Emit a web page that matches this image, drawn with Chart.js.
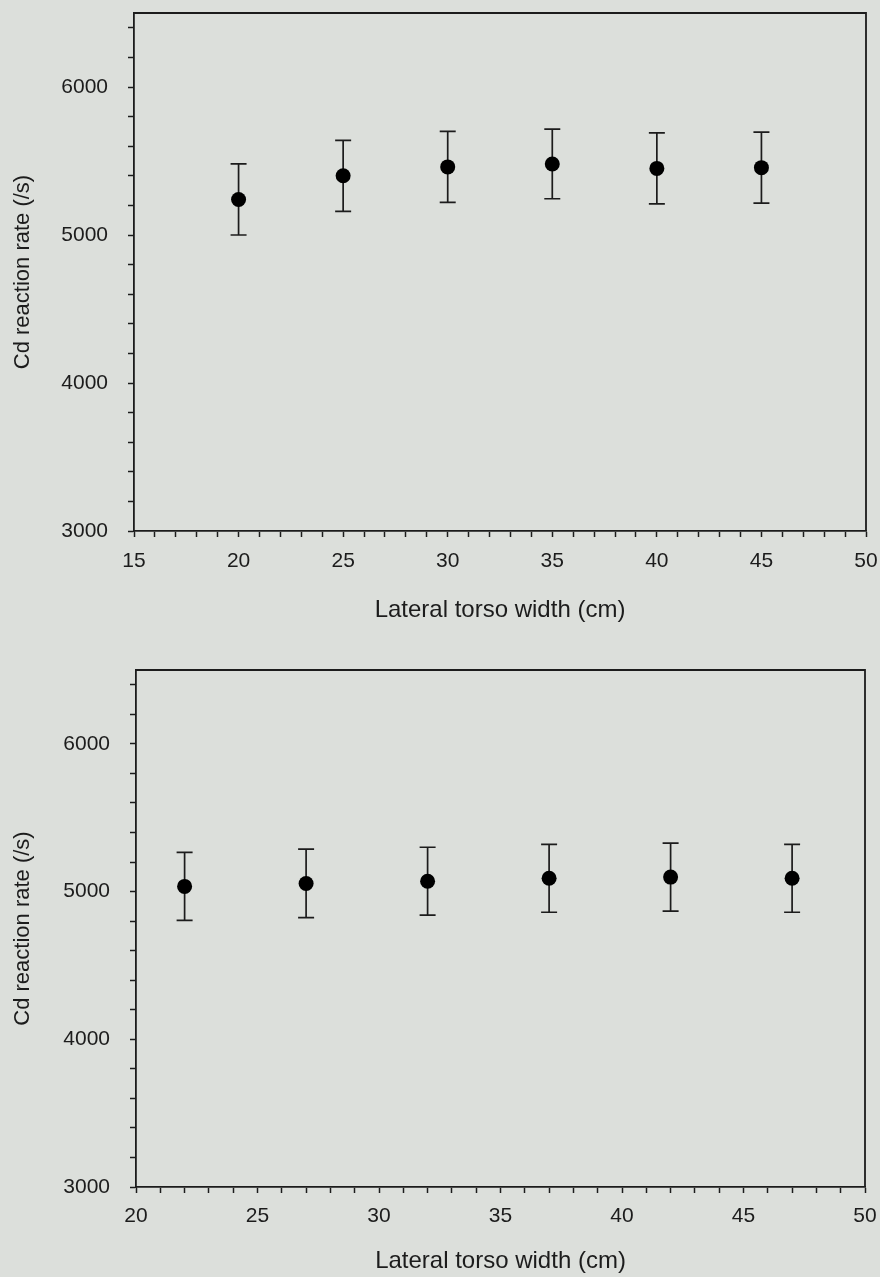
<!DOCTYPE html>
<html>
<head>
<meta charset="utf-8">
<script src="https://cdn.jsdelivr.net/npm/chart.js@4/dist/chart.umd.min.js"></script>
<style>
  html, body { margin: 0; padding: 0; background: #dcdfdb; }
  .box { position: relative; width: 880px; }
  canvas { display: block; }
</style>
</head>
<body>
<div class="box" style="height:640px"><canvas id="top" width="880" height="640"></canvas></div>
<div class="box" style="height:637px"><canvas id="bottom" width="880" height="637"></canvas></div>
<script>
// data
const widthsTop = [20, 25, 30, 35, 40, 45];
const ratesTop = [5240, 5400, 5460, 5480, 5450, 5455];
const errTop = [240, 240, 240, 235, 240, 240];

const widthsBottom = [22, 27, 32, 37, 42, 47];
const ratesBottom = [5035, 5055, 5070, 5090, 5098, 5090];
const errBottom = [230, 232, 230, 230, 230, 230];

const yTitle = 'Cd reaction rate (/s)';
const xTitle = 'Lateral torso width (cm)';
const yMin = 3000, yMax = 6500;

const ink = '#1c1c1c';
const fontFam = "'Liberation Sans', Arial, sans-serif";

// error bars + frame
const extras = {
  id: 'extras',
  beforeDatasetsDraw(chart) {
    const ctx = chart.ctx;
    const sx = chart.scales.x, sy = chart.scales.y;
    const err = chart.options.plugins.extras.err;
    const ds = chart.data.datasets[0].data;
    ctx.save();
    ctx.strokeStyle = ink;
    ctx.lineWidth = 1.7;
    ds.forEach((p, i) => {
      const x = sx.getPixelForValue(p.x);
      const y1 = sy.getPixelForValue(p.y + err[i]);
      const y2 = sy.getPixelForValue(p.y - err[i]);
      ctx.beginPath();
      ctx.moveTo(x, y1); ctx.lineTo(x, y2);
      ctx.moveTo(x - 8, y1); ctx.lineTo(x + 8, y1);
      ctx.moveTo(x - 8, y2); ctx.lineTo(x + 8, y2);
      ctx.stroke();
    });
    ctx.restore();
  },
  afterDraw(chart) {
    const a = chart.chartArea, ctx = chart.ctx;
    ctx.save();
    ctx.strokeStyle = ink;
    ctx.lineWidth = 1.8;
    ctx.beginPath();
    ctx.moveTo(a.left, a.top); ctx.lineTo(a.right, a.top); ctx.lineTo(a.right, a.bottom);
    ctx.stroke();
    ctx.restore();
  }
};

function makeChart(id, xs, ys, err, xMin, xMax, lay) {
  const pts = xs.map((x, i) => ({x: x, y: ys[i]}));
  return new Chart(document.getElementById(id), {
    type: 'scatter',
    data: {
      datasets: [{
        data: pts,
        pointRadius: 7.5,
        pointHoverRadius: 7.5,
        pointBackgroundColor: '#000',
        pointBorderColor: '#000',
        pointBorderWidth: 0,
        showLine: false
      }]
    },
    options: {
      responsive: false,
      animation: false,
      events: [],
      layout: {padding: {left: 0, right: lay.right, top: lay.top, bottom: 0}},
      plugins: {
        legend: {display: false},
        tooltip: {enabled: false},
        extras: {err: err}
      },
      scales: {
        x: {
          type: 'linear',
          min: xMin, max: xMax,
          afterFit(s) { s.height = lay.xh; s.paddingLeft = 0; s.paddingRight = 0; },
          border: {color: ink, width: 1.8},
          grid: {drawOnChartArea: false, drawTicks: true, tickLength: 6, tickColor: ink, tickWidth: 1.5},
          ticks: {
            stepSize: 1,
            autoSkip: false,
            maxRotation: 0,
            color: ink,
            padding: lay.xpad,
            font: {family: fontFam, size: 21},
            callback: v => (v % 5 === 0 ? v : '')
          },
          title: {display: true, text: xTitle, color: ink, font: {family: fontFam, size: 24}, padding: {top: 0, bottom: lay.titlePad}}
        },
        y: {
          type: 'linear',
          min: yMin, max: yMax,
          afterFit(s) { s.width = lay.left; s.paddingTop = 0; s.paddingBottom = 0; },
          border: {color: ink, width: 1.8},
          grid: {drawOnChartArea: false, drawTicks: true, tickLength: 6, tickColor: ink, tickWidth: 1.5},
          ticks: {
            stepSize: 200,
            includeBounds: false,
            autoSkip: false,
            color: ink,
            padding: 20,
            font: {family: fontFam, size: 21},
            callback: v => (v % 1000 === 0 ? v : '')
          },
          title: {display: true, text: yTitle, color: ink, font: {family: fontFam, size: 22}, padding: {top: 10, bottom: 0}}
        }
      }
    },
    plugins: [extras]
  });
}

makeChart('top', widthsTop, ratesTop, errTop, 15, 50,
  {left: 134, right: 14, top: 13, xh: 109, xpad: 12, titlePad: 15});
makeChart('bottom', widthsBottom, ratesBottom, errBottom, 20, 50,
  {left: 136, right: 15, top: 30, xh: 90, xpad: 11, titlePad: 1});
</script>
</body>
</html>
